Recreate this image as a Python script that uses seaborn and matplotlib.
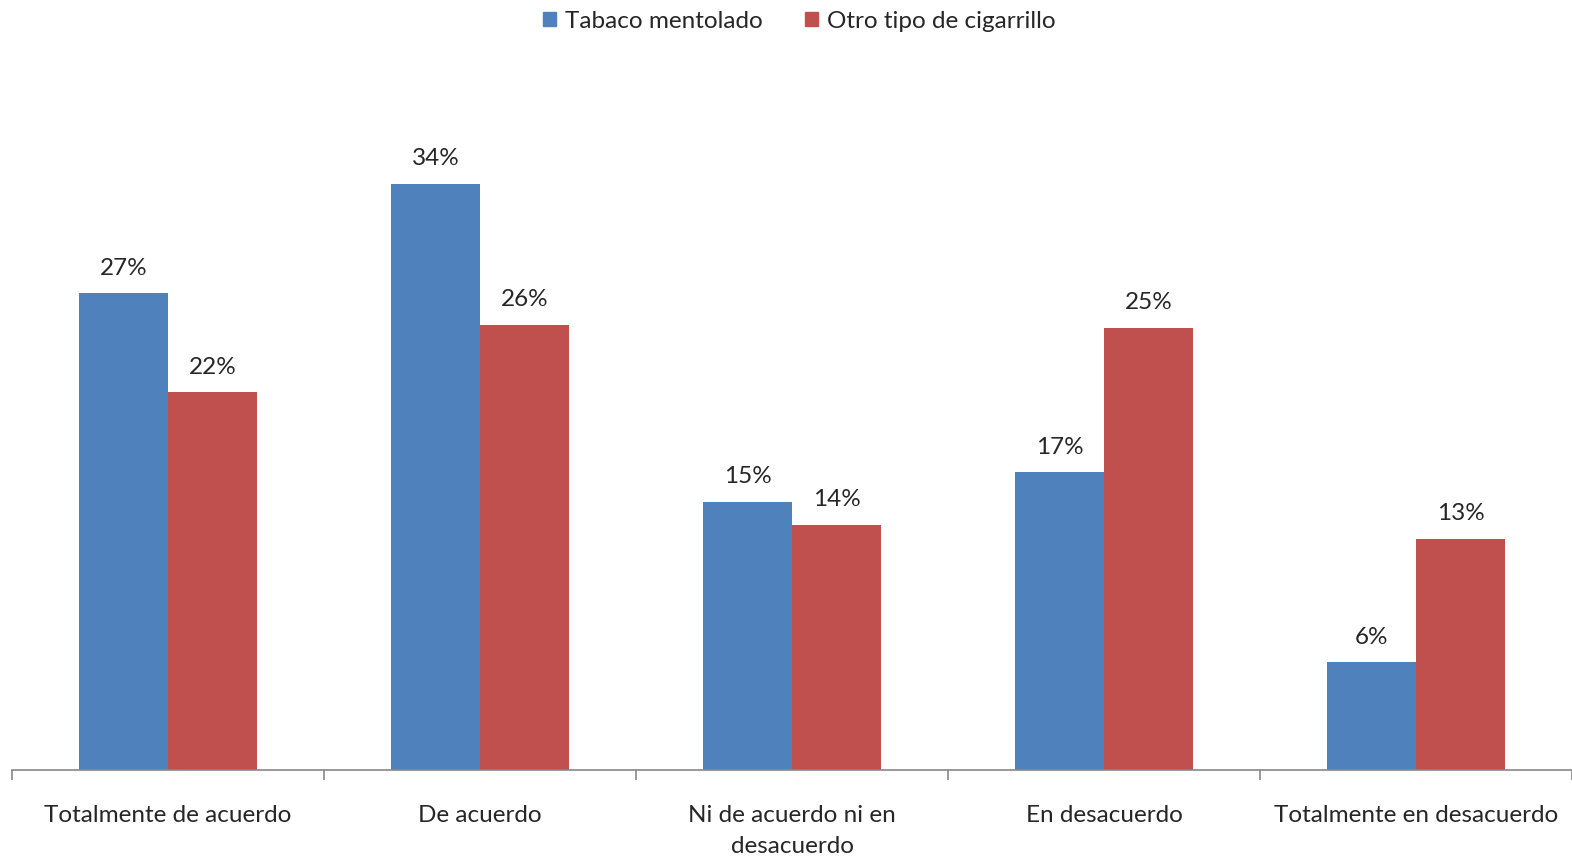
import pandas as pd
import matplotlib
matplotlib.use('Agg')
import matplotlib.pyplot as plt
import seaborn as sns

# Data (percent)
categorias = ['Totalmente de acuerdo', 'De acuerdo', 'Ni de acuerdo ni en\ndesacuerdo',
              'En desacuerdo', 'Totalmente en desacuerdo']
series = ['Tabaco mentolado', 'Otro tipo de cigarrillo']
mentolado = [27.4, 33.7, 15.4, 17.1, 6.2]
otro = [21.7, 25.6, 14.1, 25.4, 13.3]
colores = ['#4F81BD', '#C0504D']

df = pd.DataFrame({
    'categoria': categorias * 2,
    'serie': [series[0]] * 5 + [series[1]] * 5,
    'valor': mentolado + otro,
})

sns.set_style('white')
plt.rcParams['font.family'] = ['Lato', 'DejaVu Sans']
fs = 17.5

fig = plt.figure(figsize=(15.72, 8.56), dpi=100)
ax = fig.add_axes([12 / 1572, 86 / 856, 1560 / 1572, 696 / 856])

sns.barplot(data=df, x='categoria', y='valor', hue='serie', palette=colores,
            width=0.57, saturation=1, linewidth=0, ax=ax, legend=False)

for cont in ax.containers:
    ax.bar_label(cont, fmt='%.0f%%', padding=10.5, fontsize=fs)

ax.set_xlim(-0.5, 4.5)
ax.set_ylim(0, 40)
ax.set_xlabel('')
ax.set_ylabel('')
ax.set_yticks([])
for s in ['top', 'right', 'left']:
    ax.spines[s].set_visible(False)
ax.spines['bottom'].set_color('#878787')
ax.spines['bottom'].set_linewidth(1.2)

ax.tick_params(axis='x', which='major', length=0, pad=25, labelsize=fs)
for lab in ax.get_xticklabels():
    lab.set_linespacing(1.6)
ax.set_xticks([i - 0.5 for i in range(6)], minor=True)
ax.tick_params(axis='x', which='minor', bottom=True, length=7, width=1.2,
               color='#878787', direction='out')

handles = [plt.Rectangle((0, 0), 1, 1, color=c) for c in colores]
fig.legend(handles, series, loc='center', bbox_to_anchor=(799 / 1572, 1 - 21 / 856), ncol=2,
           frameon=False, fontsize=fs, handlelength=0.55, handleheight=0.55,
           handletextpad=0.35, columnspacing=1.75)

fig.savefig('out.png', dpi=100)
